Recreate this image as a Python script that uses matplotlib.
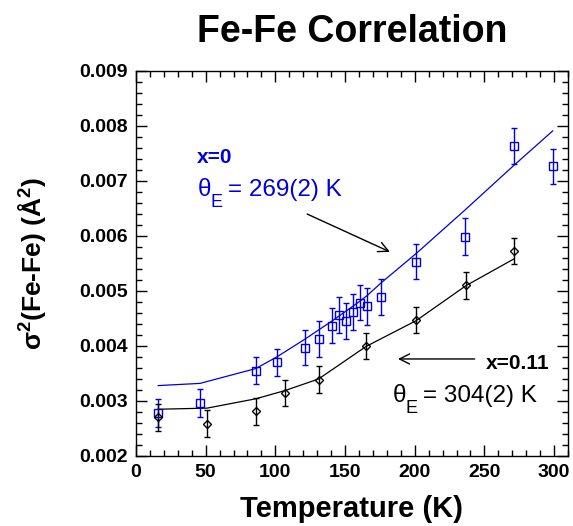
import numpy as np
import matplotlib
matplotlib.use('Agg')
from matplotlib import pyplot as plt
from matplotlib.ticker import MultipleLocator

plt.rcParams['font.family'] = ['Liberation Sans', 'DejaVu Sans']
plt.rcParams['mathtext.fontset'] = 'custom'
plt.rcParams['mathtext.rm'] = 'Liberation Sans'
plt.rcParams['mathtext.bf'] = 'Liberation Sans:bold'
plt.rcParams['mathtext.it'] = 'Liberation Sans:italic'

# x=0 sample (blue squares) and its Einstein fit
T_x0 = [16, 46, 86, 101, 121, 131, 141, 146, 151, 156, 161, 166, 176, 201, 236, 271, 299]
s2_x0 = [0.00278, 0.00296, 0.00355, 0.00370, 0.00397, 0.00413, 0.00437, 0.00456, 0.00446,
         0.00462, 0.00479, 0.00472, 0.00489, 0.00553, 0.00599, 0.00764, 0.00727]
err_x0 = [0.00026, 0.00025, 0.00025, 0.00025, 0.00032, 0.00033, 0.00032, 0.00033, 0.00033,
          0.00033, 0.00032, 0.00033, 0.00032, 0.00032, 0.00033, 0.00033, 0.00032]
fit_x0 = [0.00328, 0.00332, 0.00359, 0.00380, 0.00412, 0.00429, 0.00446, 0.00455, 0.00464,
          0.00473, 0.00482, 0.00492, 0.00515, 0.00568, 0.00647, 0.00728, 0.00791]

# x=0.11 sample (black diamonds) and its Einstein fit
T_x11 = [16, 51, 86, 107, 131, 165, 201, 237, 271]
s2_x11 = [0.00270, 0.00259, 0.00281, 0.00315, 0.00339, 0.00400, 0.00447, 0.00510, 0.00573]
err_x11 = [0.00024, 0.00025, 0.00024, 0.00024, 0.00024, 0.00024, 0.00024, 0.00024, 0.00024]
fit_x11 = [0.00285, 0.00287, 0.00304, 0.00319, 0.00340, 0.00399, 0.00446, 0.00510, 0.00558]

blue = '#0000dd'

fig = plt.figure(figsize=(5.73, 5.26), dpi=100)
ax = fig.add_axes([0.2373, 0.1331, 0.754, 0.732])

ax.plot(T_x0, fit_x0, color=blue, lw=0.9)
ax.plot(T_x11, fit_x11, color='black', lw=0.9)
ax.errorbar(T_x0, s2_x0, yerr=err_x0, fmt='s', ms=6, mfc='none', mec=blue, mew=1.0,
            ecolor=blue, elinewidth=1.0, capsize=2.5, capthick=1.0)
ax.errorbar(T_x11, s2_x11, yerr=err_x11, fmt='D', ms=4.5, mfc='none', mec='black', mew=1.0,
            ecolor='black', elinewidth=1.0, capsize=2.5, capthick=1.0)

ax.set_xlim(0, 310)
ax.set_ylim(0.002, 0.009)
ax.xaxis.set_major_locator(MultipleLocator(50))
ax.xaxis.set_minor_locator(MultipleLocator(10))
ax.yaxis.set_minor_locator(MultipleLocator(0.0002))
yt = np.arange(0.002, 0.0091, 0.001)
ax.set_yticks(yt)
ax.set_yticklabels(['%.3f' % v for v in yt])
ax.tick_params(which='both', direction='in', top=True, right=True, width=1.0)
ax.tick_params(which='major', length=8, labelsize=14, pad=6)
ax.tick_params(which='minor', length=4)
for lab in ax.get_xticklabels() + ax.get_yticklabels():
    lab.set_fontweight('bold')
for sp in ax.spines.values():
    sp.set_linewidth(1.0)

ax.set_xlabel('Temperature (K)', fontsize=21, fontweight='bold', labelpad=10)
ax.set_ylabel('σ$^{\\mathbf{2}}$(Fe-Fe) (Å$^{\\mathbf{2}}$)', fontsize=19, fontweight='bold', labelpad=22)
ax.set_title('Fe-Fe Correlation', fontsize=27, fontweight='bold', pad=21)


def theta_label(x, y, value, color):
    # theta with a low, large subscript E like the original
    ax.text(x, y, 'θ', color=color, fontsize=17.5)
    ax.annotate('E', xy=(x, y), xytext=(9.4, -8), textcoords='offset points',
                color=color, fontsize=13)
    ax.annotate('= %s K' % value, xy=(x, y), xytext=(22.3, 0), textcoords='offset points',
                color=color, fontsize=17.5)


# annotations
ax.text(44, 0.00733, 'x=0', color=blue, fontsize=15, fontweight='bold')
theta_label(44, 0.00672, '269(2)', blue)
ax.annotate('', xy=(184, 0.00569), xytext=(121, 0.00642),
            arrowprops=dict(arrowstyle='->', color='black', lw=1.0, mutation_scale=18))
ax.annotate('', xy=(186, 0.003764), xytext=(245, 0.003764),
            arrowprops=dict(arrowstyle='->', color='black', lw=1.0, mutation_scale=18))
ax.text(251, 0.00358, 'x=0.11', color='black', fontsize=15, fontweight='bold')
theta_label(184, 0.00299, '304(2)', 'black')

plt.savefig('out.png', dpi=100)
